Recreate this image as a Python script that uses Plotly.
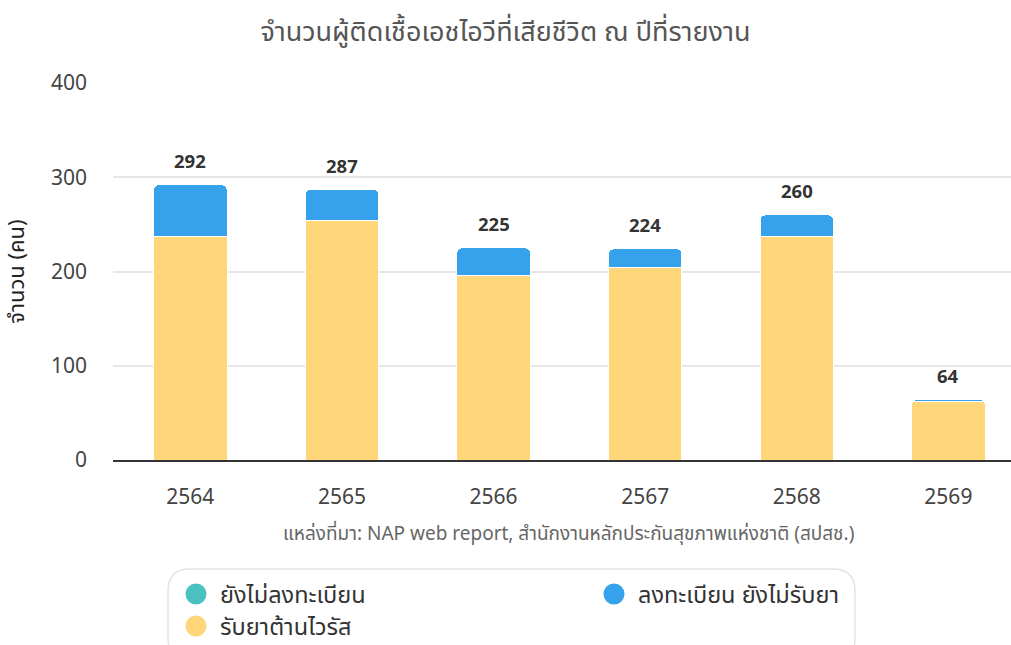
import plotly.graph_objects as go

years = ["2564", "2565", "2566", "2567", "2568", "2569"]
not_registered = [0, 0, 0, 0, 0, 0]
registered_no_arv = [55, 33, 29, 20, 23, 2]
on_arv = [237, 254, 196, 204, 237, 62]
totals = [292, 287, 225, 224, 260, 64]

names = ["ยังไม่ลงทะเบียน", "ลงทะเบียน ยังไม่รับยา", "รับยาต้านไวรัส"]
colors = ["#4BC0C0", "#36A2EB", "#FFD679"]
FONT = "Noto Sans, Noto Sans Thai, sans-serif"

fig = go.Figure()
series = [on_arv, registered_no_arv, not_registered]
ser_names = [names[2], names[1], names[0]]
ser_colors = [colors[2], colors[1], colors[0]]
for vals, nm, c in zip(series, ser_names, ser_colors):
    fig.add_trace(go.Bar(x=years, y=vals, name=nm, marker=dict(color=c, line=dict(color="white", width=1)),
                         showlegend=False, hoverinfo="y+name"))

# total labels above stacks (x given as category index)
for i, t in enumerate(totals):
    fig.add_annotation(x=i, y=t, text=f"<b>{t}</b>", showarrow=False, yanchor="bottom", yshift=10,
                       font=dict(family=FONT, size=18.5, color="#333333"))

# paper coordinate helpers (plot area: x 113..1011 px, y 460..83 px)
def px_x(p):
    return (p - 113) / (1011 - 113)

def px_y(p):
    return (460 - p) / (460 - 83)

fig.add_annotation(xref="paper", yref="paper", x=px_x(568), y=px_y(533), xanchor="center", yanchor="middle",
                   text="แหล่งที่มา: NAP web report, สำนักงานหลักประกันสุขภาพแห่งชาติ (สปสช.)",
                   showarrow=False, font=dict(family=FONT, size=19, color="#666666"))

# rounded legend box
x0, x1, y0, y1, r = 168, 855, 569, 660, 22
path = (f"M {px_x(x0+r)},{px_y(y0)} L {px_x(x1-r)},{px_y(y0)} "
        f"Q {px_x(x1)},{px_y(y0)} {px_x(x1)},{px_y(y0+r)} L {px_x(x1)},{px_y(y1-r)} "
        f"Q {px_x(x1)},{px_y(y1)} {px_x(x1-r)},{px_y(y1)} L {px_x(x0+r)},{px_y(y1)} "
        f"Q {px_x(x0)},{px_y(y1)} {px_x(x0)},{px_y(y1-r)} L {px_x(x0)},{px_y(y0+r)} "
        f"Q {px_x(x0)},{px_y(y0)} {px_x(x0+r)},{px_y(y0)} Z")
fig.add_shape(type="path", path=path, xref="paper", yref="paper",
              line=dict(color="#e3e3e3", width=1.5), fillcolor="rgba(0,0,0,0)", layer="below")

# legend entries (manual, circle markers)
legend_pos = [(196, 594), (614, 594), (196, 626)]
for (cx, cy), nm, c in zip(legend_pos, names, colors):
    fig.add_shape(type="circle", xref="paper", yref="paper", xsizemode="pixel", ysizemode="pixel",
                  xanchor=px_x(cx), yanchor=px_y(cy), x0=-10.5, x1=10.5, y0=-10.5, y1=10.5,
                  fillcolor=c, line=dict(width=0))
    fig.add_annotation(xref="paper", yref="paper", x=px_x(cx + 22), y=px_y(cy), xanchor="left",
                       yanchor="middle", text=nm, showarrow=False,
                       font=dict(family=FONT, size=23.5, color="#333333"))

fig.update_layout(
    width=1011, height=645,
    margin=dict(l=113, r=0, t=83, b=185, autoexpand=False),
    paper_bgcolor="white", plot_bgcolor="white",
    barmode="stack", bargap=0.515, barcornerradius=5,
    title=dict(text="จำนวนผู้ติดเชื้อเอชไอวีที่เสียชีวิต ณ ปีที่รายงาน", x=0.5, xanchor="center",
               y=0.951, yanchor="middle", font=dict(family=FONT, size=27, color="#555555")),
    font=dict(family=FONT, color="#444444"),
    xaxis=dict(type="category", range=[-0.51, 5.413], autorange=False, showgrid=False, automargin=False,
               showline=True, linecolor="#333333", linewidth=1.5, ticks="", ticklabelstandoff=17,
               tickfont=dict(family=FONT, size=21, color="#444444")),
    yaxis=dict(range=[0, 400], autorange=False, tickvals=[0, 100, 200, 300, 400], showgrid=True,
               automargin=False,
               gridcolor="#e6e6e6", gridwidth=1.5, zeroline=False, ticks="", ticklabelstandoff=25,
               tickfont=dict(family=FONT, size=21, color="#444444"),
               title=dict(text="จำนวน (คน)", standoff=22, font=dict(family=FONT, size=22, color="#222222"))),
    showlegend=False,
)

fig.write_html("out.html", config={"displayModeBar": False},
               post_script="document.body.style.margin='0';")
